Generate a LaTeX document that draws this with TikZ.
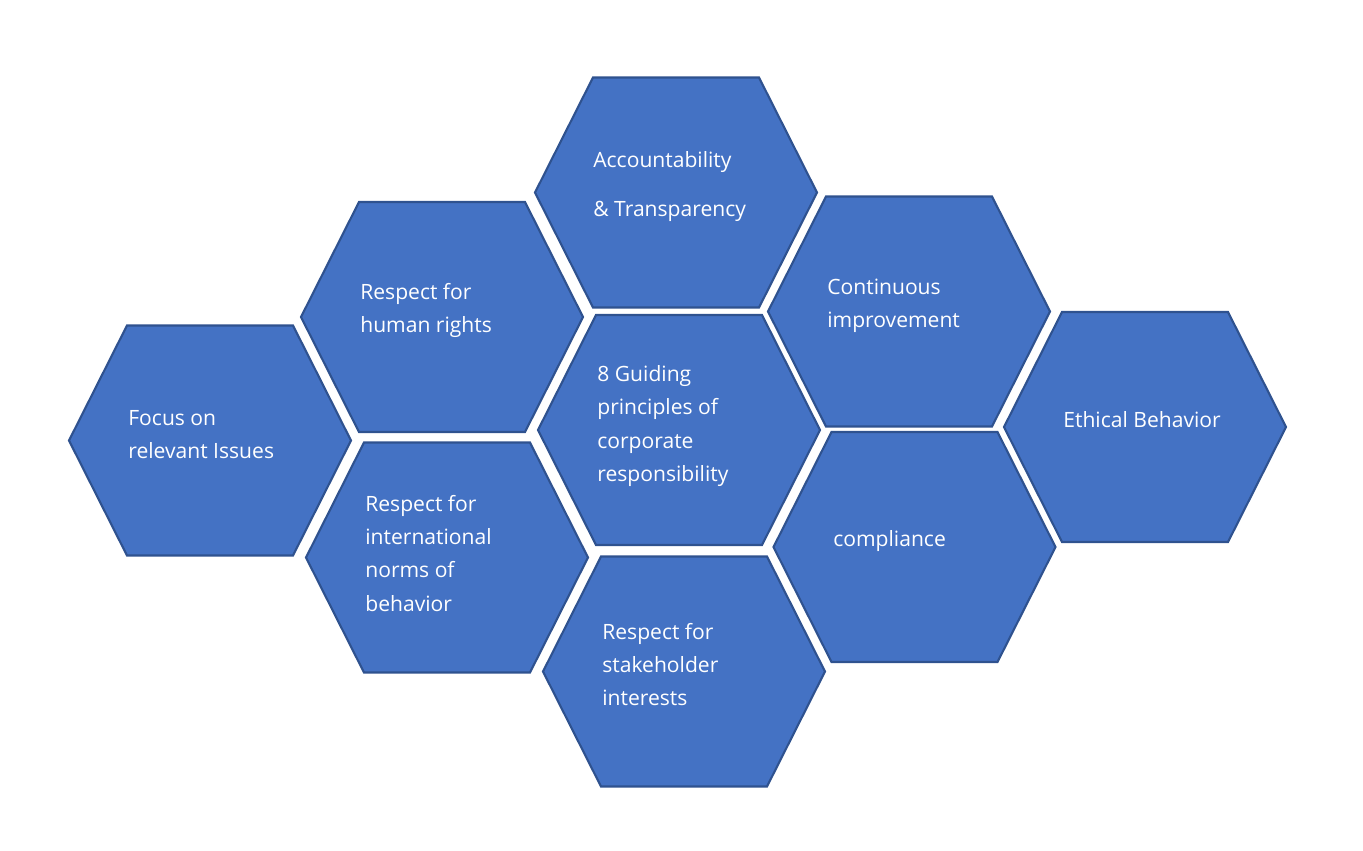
\documentclass[tikz,border=0pt]{standalone}
\usepackage{fontspec}
\setmainfont{Open Sans}
\definecolor{hexfill}{HTML}{4472C4}
\definecolor{hexline}{HTML}{2F528F}
\tikzset{hexcell/.style={draw=hexline, fill=hexfill, line width=1.2pt, line join=miter},
 hexlabel/.style={text=white, align=left, anchor=west, inner sep=0pt,
 font=\fontsize{12}{18.8}\selectfont}}

\begin{document}
\begin{tikzpicture}[x=0.02cm, y=-0.02cm]

\useasboundingbox (0,0) rectangle (1363,850);

\foreach \c in {(676,192.5), (442,317), (210,440.5), (447,557.5), (679,430),
  (684,671.5), (909,311.5), (914.5,547), (1145,427)}
\draw [hexcell, shift={\c}]
  (-141,0) -- (-83,-115) -- (83,-115) -- (141,0) -- (83,115) -- (-83,115) -- cycle;

\node [hexlabel] (acc) at (593,186.5) {Accountability\\[9.5pt]\& Transparency};
\node [hexlabel] (hum) at (360,310.5) {Respect for\\human rights};
\node [hexlabel] (foc) at (128,434.5) {Focus on\\relevant Issues};
\node [hexlabel] (int) at (365,553.5) {Respect for\\international\\norms of\\behavior};
\node [hexlabel] (gui) at (597,426) {8 Guiding\\principles of\\corporate\\responsibility};
\node [hexlabel] (sta) at (602,664.5) {Respect for\\stakeholder\\interests};
\node [hexlabel] (con) at (827,305.5) {Continuous\\improvement};
\node [hexlabel] (com) at (833,541) {compliance};
\node [hexlabel] (eth) at (1063,420) {Ethical Behavior};
\end{tikzpicture}
\end{document}
